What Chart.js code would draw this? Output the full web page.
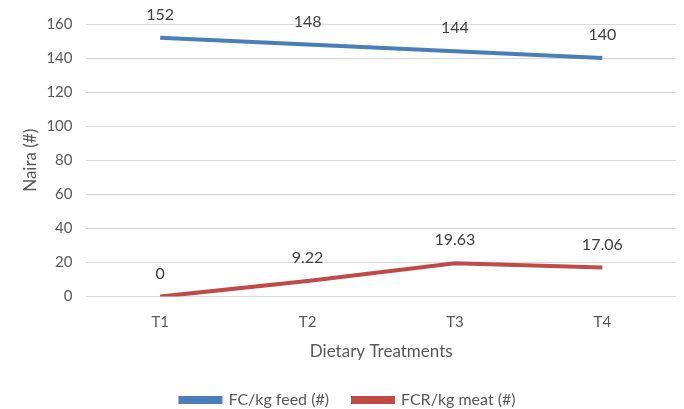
<!DOCTYPE html>
<html>
<head>
<meta charset="utf-8">
<script src="https://cdn.jsdelivr.net/npm/chart.js@4.4.0/dist/chart.umd.min.js"></script>
<style>
  body { margin: 0; background: #fff; }
  #wrap { width: 684px; height: 409px; }
</style>
</head>
<body>
<div id="wrap"><canvas id="chart"></canvas></div>
<script>
const treatments = ['T1', 'T2', 'T3', 'T4'];
const feedCost = [152, 148, 144, 140];
const meatCost = [0, 9.22, 19.63, 17.06];
const yTicks = [0, 20, 40, 60, 80, 100, 120, 140, 160];

const fontFamily = 'Lato, "Open Sans", sans-serif';
const textColor = '#595959';

// labels drawn above each point, like Excel's data labels
const pointLabels = {
    id: 'pointLabels',
    afterDatasetsDraw(chart) {
        const ctx = chart.ctx;
        ctx.save();
        ctx.font = '16px ' + fontFamily;
        ctx.fillStyle = '#404040';
        ctx.textAlign = 'center';
        ctx.textBaseline = 'middle';
        chart.data.datasets.forEach((ds, i) => {
            chart.getDatasetMeta(i).data.forEach((pt, j) => {
                ctx.fillText(String(ds.data[j]), pt.x, pt.y - 23);
            });
        });
        ctx.restore();
    }
};

const ctx = document.getElementById('chart').getContext('2d');
new Chart(ctx, {
    type: 'line',
    data: {
        labels: treatments,
        datasets: [{
            label: 'FC/kg feed (#)',
            data: feedCost,
            borderColor: '#4a7ebb',
            backgroundColor: '#4a7ebb',
            borderWidth: 4,
            pointRadius: 0,
            tension: 0
        }, {
            label: 'FCR/kg meat (#)',
            data: meatCost,
            borderColor: '#be4b48',
            backgroundColor: '#be4b48',
            borderWidth: 4,
            pointRadius: 0,
            tension: 0
        }]
    },
    options: {
        responsive: true,
        maintainAspectRatio: false,
        animation: false,
        layout: { padding: { left: 20, right: 8, top: 24, bottom: -9 } },
        plugins: {
            legend: {
                position: 'bottom',
                labels: {
                    font: { family: fontFamily, size: 16 },
                    color: textColor,
                    boxWidth: 40,
                    boxHeight: 4,
                    padding: 24
                }
            },
            tooltip: { enabled: false }
        },
        scales: {
            x: {
                offset: true,
                grid: { display: false },
                border: { display: false },
                ticks: { font: { family: fontFamily, size: 15 }, color: textColor, padding: 9 },
                title: {
                    display: true,
                    text: 'Dietary Treatments',
                    font: { family: fontFamily, size: 17 },
                    color: textColor,
                    padding: { top: 1, bottom: 6 }
                }
            },
            y: {
                min: 0,
                max: 160,
                afterBuildTicks: axis => { axis.ticks = yTicks.map(v => ({ value: v })); },
                grid: { color: '#d9d9d9', lineWidth: 1, drawTicks: false },
                border: { display: false },
                ticks: { font: { family: fontFamily, size: 15 }, color: textColor, padding: 14 },
                title: {
                    display: true,
                    text: 'Naira (#)',
                    font: { family: fontFamily, size: 17 },
                    color: textColor,
                    padding: { top: 0, bottom: -8 }
                }
            }
        }
    },
    plugins: [pointLabels]
});
</script>
</body>
</html>
